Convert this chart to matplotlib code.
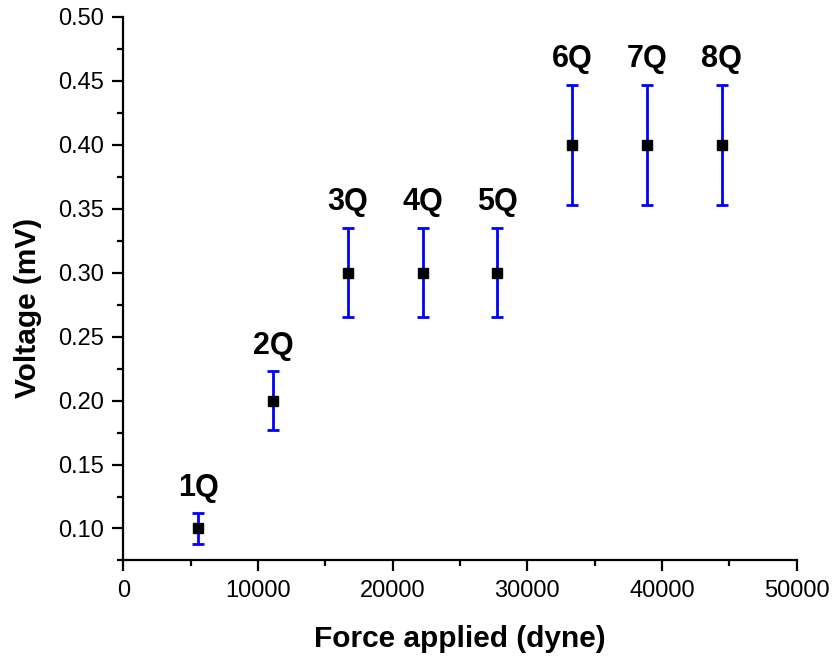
import matplotlib
matplotlib.use("Agg")
import matplotlib.pyplot as plt
from matplotlib.ticker import MultipleLocator, FormatStrFormatter

plt.rcParams['font.family'] = ['Liberation Sans', 'DejaVu Sans']

labels = ["1Q", "2Q", "3Q", "4Q", "5Q", "6Q", "7Q", "8Q"]
force = [5555, 11110, 16665, 22220, 27775, 33330, 38885, 44440]
voltage = [0.10, 0.20, 0.30, 0.30, 0.30, 0.40, 0.40, 0.40]
verr = [0.012, 0.023, 0.035, 0.035, 0.035, 0.047, 0.047, 0.047]

fig = plt.figure(figsize=(8.35, 6.57), dpi=100)
ax = fig.add_axes([0.1477, 0.1469, 0.8064, 0.8277])

ax.errorbar(force, voltage, yerr=verr, fmt='none', ecolor='#0000ff',
            elinewidth=2.0, capsize=4.5, capthick=2.0, zorder=2)
ax.plot(force, voltage, 's', color='black', markersize=6.5, zorder=3)

for x, y, e, lab in zip(force, voltage, verr, labels):
    ax.annotate(lab, (x, y + e), xytext=(0, 12.5), textcoords='offset points',
                ha='center', va='baseline', fontsize=22, fontweight='bold')

ax.set_xlim(0, 50000)
ax.set_ylim(0.075, 0.50)
ax.xaxis.set_major_locator(MultipleLocator(10000))
ax.xaxis.set_minor_locator(MultipleLocator(5000))
ax.yaxis.set_major_locator(MultipleLocator(0.05))
ax.yaxis.set_minor_locator(MultipleLocator(0.025))
ax.yaxis.set_major_formatter(FormatStrFormatter('%.2f'))

for s in ['top', 'right']:
    ax.spines[s].set_visible(False)
for s in ['left', 'bottom']:
    ax.spines[s].set_linewidth(1.6)

ax.tick_params(axis='both', which='major', direction='out', length=8, width=1.6,
               labelsize=17, pad=6)
ax.tick_params(axis='both', which='minor', direction='out', length=4.5, width=1.6)

ax.set_xlabel("Force applied (dyne)", fontsize=21.5, fontweight='bold')
ax.set_ylabel("Voltage (mV)", fontsize=21.5, fontweight='bold')
ax.xaxis.set_label_coords(0.5, -0.118)
ax.yaxis.set_label_coords(-0.121, 0.464)

fig.savefig("out.png", dpi=100)
